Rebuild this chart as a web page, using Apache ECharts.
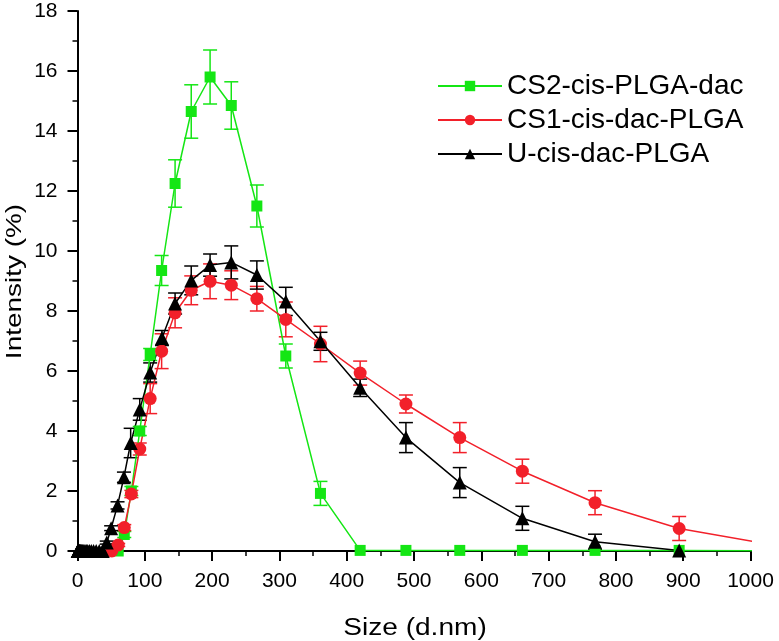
<!DOCTYPE html>
<html>
<head>
<meta charset="utf-8">
<script src="https://cdn.jsdelivr.net/npm/echarts@6/dist/echarts.min.js"></script>
<style>
html,body{margin:0;padding:0;background:#fff;}
#chart{width:779px;height:641px;}
</style>
</head>
<body>
<div id="chart"></div>
<script>
// ---- Data ----
var seriesNames = ['CS2-cis-PLGA-dac', 'CS1-cis-dac-PLGA', 'U-cis-dac-PLGA'];
var xTitle = 'Size (d.nm)';
var yTitle = 'Intensity (%)';

var greenSizes  = [60.5, 69.5, 80, 92.5, 108, 125, 145, 169, 197, 228.5, 266.5, 309.5, 361, 420, 488, 568, 661, 769, 894, 1040];
var greenValues = [0, 0.55, 2.0, 4.0, 6.55, 9.35, 12.25, 14.65, 15.8, 14.85, 11.5, 6.5, 1.92, 0.02, 0.02, 0.02, 0.02, 0.02, 0.02, 0];
var greenErrors = [0, 0.1, 0.15, 0.15, 0.2, 0.5, 0.79, 0.89, 0.9, 0.79, 0.7, 0.4, 0.4, 0, 0, 0, 0, 0, 0, 0];

var redSizes  = [51, 60.5, 69.5, 80, 92.5, 108, 125, 145, 169, 197, 228.5, 266.5, 309.5, 361, 420, 488, 568, 661, 769, 894, 1040];
var redValues = [0, 0.2, 0.78, 1.9, 3.4, 5.08, 6.66, 7.94, 8.69, 8.99, 8.86, 8.41, 7.72, 6.9, 5.93, 4.9, 3.78, 2.66, 1.61, 0.75, 0.18];
var redErrors = [0, 0.05, 0.1, 0.12, 0.2, 0.5, 0.58, 0.5, 0.48, 0.58, 0.48, 0.41, 0.58, 0.59, 0.4, 0.3, 0.5, 0.4, 0.4, 0.4, 0];

var blackSizes  = [0.4, 0.5, 0.6, 0.7, 0.8, 0.9, 1.0, 1.2, 1.4, 1.6, 1.9, 2.2, 2.5, 2.9, 3.4, 3.9, 4.6, 5.3, 6.2, 7.2, 8.3, 9.7, 11.2, 13.1, 15.2, 17.7, 20.5, 23.9, 27.8, 32.3, 37.5,
                   43.5, 50, 59.5, 69, 79, 92.5, 108, 125.5, 145, 169, 197, 228.5, 266.5, 309.5, 361, 420, 488, 568, 661, 769, 894];
var blackValues = [0, 0, 0, 0, 0, 0, 0, 0, 0, 0, 0, 0, 0, 0, 0, 0, 0, 0, 0, 0, 0, 0, 0, 0, 0, 0, 0, 0, 0, 0, 0,
                   0.28, 0.76, 1.52, 2.46, 3.6, 4.72, 5.95, 7.1, 8.25, 9.02, 9.53, 9.62, 9.2, 8.32, 6.99, 5.44, 3.78, 2.28, 1.09, 0.31, 0.02];
var blackErrors = [0, 0, 0, 0, 0, 0, 0, 0, 0, 0, 0, 0, 0, 0, 0, 0, 0, 0, 0, 0, 0, 0, 0, 0, 0, 0, 0, 0, 0, 0, 0,
                   0.05, 0.08, 0.12, 0.17, 0.49, 0.36, 0.32, 0.25, 0.35, 0.48, 0.37, 0.55, 0.47, 0.47, 0.3, 0.29, 0.5, 0.5, 0.4, 0.25, 0];

var xTickMin = 0, xTickMax = 1000, xTickStep = 100;
var yTickMin = 0, yTickMax = 18, yTickStep = 2;

// ---- Build ----
var colors = ['#14e614', '#f2202a', '#000000'];
var FONT = 'Liberation Sans, Arial, sans-serif';

function pts(sz, vals) { return sz.map(function (s, i) { return [s, vals[i]]; }); }
function errPts(sz, vals, errs) {
  var out = [];
  sz.forEach(function (s, i) { if (errs[i] > 0) out.push([s, vals[i], errs[i]]); });
  return out;
}
function errSeries(data, color) {
  return {
    type: 'custom',
    silent: true,
    z: 1,
    clip: true,
    data: data,
    encode: { x: 0, y: 1 },
    renderItem: function (params, api) {
      var x = api.value(0), y = api.value(1), e = api.value(2);
      var top = api.coord([x, y + e]);
      var bot = api.coord([x, y - e]);
      var hw = 7;
      var st = { stroke: color, lineWidth: 1.5 };
      return {
        type: 'group',
        children: [
          { type: 'line', shape: { x1: top[0], y1: top[1], x2: bot[0], y2: bot[1] }, style: st },
          { type: 'line', shape: { x1: top[0] - hw, y1: top[1], x2: top[0] + hw, y2: top[1] }, style: st },
          { type: 'line', shape: { x1: bot[0] - hw, y1: bot[1], x2: bot[0] + hw, y2: bot[1] }, style: st }
        ]
      };
    }
  };
}
function lineSeries(name, data, color, symbol, size) {
  return {
    name: name, type: 'line', data: data, z: 3,
    symbol: symbol, symbolSize: size, showAllSymbol: true,
    lineStyle: { color: color, width: 1.5 },
    itemStyle: { color: color },
    emphasis: { disabled: true },
    animation: false
  };
}

var chart = echarts.init(document.getElementById('chart'));
chart.setOption({
  animation: false,
  backgroundColor: '#ffffff',
  grid: { left: 77.5, right: 28.5, top: 11, bottom: 90 },
  legend: {
    data: seriesNames,
    orient: 'vertical',
    left: 432, top: 67,
    itemWidth: 64, itemHeight: 13, itemGap: 6,
    textStyle: { fontFamily: FONT, fontSize: 28, color: '#000', padding: [0, 0, 0, 0] }
  },
  graphic: [
    { type: 'text', x: 415, y: 629, scaleX: 1.22, scaleY: 1,
      style: { text: xTitle, fontFamily: FONT, fontSize: 23, fill: '#000', align: 'center', verticalAlign: 'middle' } },
    { type: 'text', x: 15, y: 281.5, rotation: Math.PI / 2, scaleX: 1.27, scaleY: 1,
      style: { text: yTitle, fontFamily: FONT, fontSize: 22, fill: '#000', align: 'center', verticalAlign: 'middle' } }
  ],
  xAxis: {
    type: 'value', min: xTickMin, max: xTickMax, interval: xTickStep,
    axisLine: { show: true, onZero: false, lineStyle: { color: '#000', width: 2 } },
    axisTick: { show: true, inside: false, length: 10, lineStyle: { color: '#000', width: 2 } },
    minorTick: { show: true, splitNumber: 2, length: 5, lineStyle: { color: '#000', width: 1.5 } },
    axisLabel: { fontFamily: FONT, fontSize: 21, color: '#000', margin: 20, formatter: function (v) { return String(v); } },
    splitLine: { show: false }
  },
  yAxis: {
    type: 'value', min: yTickMin, max: yTickMax, interval: yTickStep,
    axisLine: { show: true, onZero: false, lineStyle: { color: '#000', width: 2 } },
    axisTick: { show: true, inside: false, length: 10, lineStyle: { color: '#000', width: 2 } },
    minorTick: { show: true, splitNumber: 2, length: 5, lineStyle: { color: '#000', width: 1.5 } },
    axisLabel: { fontFamily: FONT, fontSize: 21, color: '#000', margin: 20, formatter: function (v) { return String(v); } },
    splitLine: { show: false }
  },
  series: [
    errSeries(errPts(greenSizes, greenValues, greenErrors), colors[0]),
    errSeries(errPts(redSizes, redValues, redErrors), colors[1]),
    errSeries(errPts(blackSizes, blackValues, blackErrors), colors[2]),
    lineSeries(seriesNames[0], pts(greenSizes, greenValues), colors[0], 'rect', 11),
    lineSeries(seriesNames[1], pts(redSizes, redValues), colors[1], 'circle', 13),
    lineSeries(seriesNames[2], pts(blackSizes, blackValues), colors[2], 'triangle', 14)
  ]
});
</script>
</body>
</html>
